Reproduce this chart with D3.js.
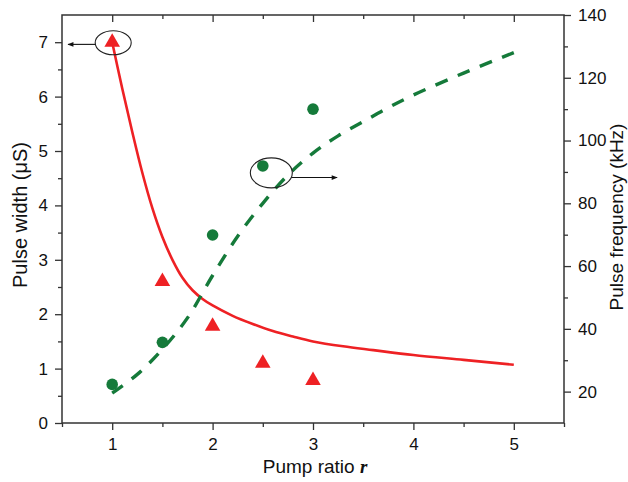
<!DOCTYPE html>
<html>
<head>
<meta charset="utf-8">
<script src="https://cdn.jsdelivr.net/npm/d3@7"></script>
<style>
  html, body { margin: 0; padding: 0; background: #fff; }
  svg { display: block; font-family: "Liberation Sans", Arial, sans-serif; }
</style>
</head>
<body>
<svg id="chart" width="628" height="482"></svg>
<script>
// Measured points
const pumpRatio = [1, 1.5, 2, 2.5, 3];
const pulseWidth = [7.0, 2.6, 1.78, 1.1, 0.78];          // µs, left axis
const pulseFreq = [22.3, 35.7, 69.9, 91.9, 110];         // kHz, right axis

// Model curves
const widthCurveR = [1.0, 1.1, 1.2, 1.3, 1.4, 1.5, 1.6, 1.7, 1.8, 1.9, 2.0, 2.2, 2.4, 2.6, 2.8, 3.0, 3.3, 3.6, 4.0, 4.5, 5.0];
const widthCurve  = [7.0, 6.15, 5.35, 4.6, 3.95, 3.42, 3.0, 2.67, 2.44, 2.28, 2.16, 1.97, 1.82, 1.69, 1.59, 1.5, 1.41, 1.34, 1.25, 1.16, 1.07];
const freqCurveR = [1.0, 1.25, 1.5, 1.75, 2.0, 2.25, 2.5, 2.75, 3.0, 3.25, 3.5, 3.75, 4.0, 4.5, 5.0];
const freqCurve  = [19.5, 25.5, 33.5, 43.5, 57, 69.5, 80, 89, 96, 101.5, 106, 110.5, 114.5, 121.5, 128];

// Axis ticks
const xTicks = [1, 2, 3, 4, 5];
const xMinor = [0.5, 1.5, 2.5, 3.5, 4.5, 5.5];
const yLeftTicks = [0, 1, 2, 3, 4, 5, 6, 7];
const yLeftMinor = [0.5, 1.5, 2.5, 3.5, 4.5, 5.5, 6.5];
const yRightTicks = [20, 40, 60, 80, 100, 120, 140];
const yRightMinor = [30, 50, 70, 90, 110, 130];

// Callouts: ellipse centre (r, value), which axis, arrow end r
const callouts = [
  { r: 1.01, v: 6.99, axis: "left", rx: 18, ry: 12, arrowV: 6.96, arrowTo: 0.56 },
  { r: 2.585, v: 89.7, axis: "right", rx: 21, ry: 15, arrowV: 88.2, arrowTo: 3.24 }
];

const red = "#ee2124";
const green = "#157a3a";
const axisColor = "#333";

const W = 628, H = 482;
const m = { left: 62, right: 64, top: 15, bottom: 59 };
const svg = d3.select("#chart");

const x = d3.scaleLinear().domain([0.5, 5.5]).range([m.left, W - m.right]);
const yL = d3.scaleLinear().domain([0, 7.5]).range([H - m.bottom, m.top]);
const yR = d3.scaleLinear().domain([10, 140]).range([H - m.bottom, m.top]);

const fontSize = 17;

// Frame
svg.append("rect")
  .attr("x", m.left).attr("y", m.top)
  .attr("width", W - m.left - m.right).attr("height", H - m.top - m.bottom)
  .attr("fill", "none").attr("stroke", axisColor).attr("stroke-width", 1.5);

function styleAxis(g) {
  g.select(".domain").remove();
  g.selectAll(".tick line").attr("stroke", axisColor).attr("stroke-width", 1.3);
  g.selectAll(".tick text").attr("fill", "#111").attr("font-size", fontSize)
    .attr("font-family", "Liberation Sans, Arial, sans-serif");
}

// Bottom axis
svg.append("g").attr("transform", `translate(0,${H - m.bottom})`)
  .call(d3.axisBottom(x).tickValues(xTicks).tickFormat(d3.format("d")).tickSize(7).tickPadding(8))
  .call(styleAxis);
svg.append("g").attr("transform", `translate(0,${H - m.bottom})`)
  .call(d3.axisBottom(x).tickValues(xMinor).tickFormat("").tickSize(4))
  .call(styleAxis);

// Top axis (inward ticks)
svg.append("g").attr("transform", `translate(0,${m.top})`)
  .call(d3.axisBottom(x).tickValues(xTicks).tickFormat("").tickSize(7))
  .call(styleAxis);
svg.append("g").attr("transform", `translate(0,${m.top})`)
  .call(d3.axisBottom(x).tickValues(xMinor.slice(1, -1)).tickFormat("").tickSize(4))
  .call(styleAxis);

// Left axis
svg.append("g").attr("transform", `translate(${m.left},0)`)
  .call(d3.axisLeft(yL).tickValues(yLeftTicks).tickFormat(d3.format("d")).tickSize(7).tickPadding(7))
  .call(styleAxis);
svg.append("g").attr("transform", `translate(${m.left},0)`)
  .call(d3.axisLeft(yL).tickValues(yLeftMinor).tickFormat("").tickSize(4))
  .call(styleAxis);

// Right axis
svg.append("g").attr("transform", `translate(${W - m.right},0)`)
  .call(d3.axisRight(yR).tickValues(yRightTicks).tickFormat(d3.format("d")).tickSize(7).tickPadding(7))
  .call(styleAxis);
svg.append("g").attr("transform", `translate(${W - m.right},0)`)
  .call(d3.axisRight(yR).tickValues(yRightMinor).tickFormat("").tickSize(4))
  .call(styleAxis);

// Axis titles
const titleSize = 19;
const xTitle = svg.append("text")
  .attr("x", (m.left + W - m.right) / 2 + 2).attr("y", H - 9)
  .attr("text-anchor", "middle").attr("font-size", titleSize).attr("fill", "#111");
xTitle.append("tspan").text("Pump ratio ");
xTitle.append("tspan").text("r").attr("font-style", "italic").attr("font-weight", "bold")
  .attr("font-family", "Liberation Serif, Times New Roman, serif");

svg.append("text")
  .attr("transform", `translate(27,${(m.top + H - m.bottom) / 2 - 4}) rotate(-90)`)
  .attr("text-anchor", "middle").attr("font-size", 20).attr("fill", "#111")
  .text("Pulse width (\u03BCS)");

svg.append("text")
  .attr("transform", `translate(${W - 5},${(m.top + H - m.bottom) / 2 - 2}) rotate(-90)`)
  .attr("text-anchor", "middle").attr("font-size", titleSize).attr("fill", "#111")
  .text("Pulse frequency (kHz)");

// Curves
const widthLine = d3.line()
  .x(d => x(d[0])).y(d => yL(d[1]))
  .curve(d3.curveCatmullRom.alpha(0.5));
svg.append("path")
  .datum(d3.zip(widthCurveR, widthCurve))
  .attr("d", widthLine)
  .attr("fill", "none").attr("stroke", red).attr("stroke-width", 2.6);

const freqLine = d3.line()
  .x(d => x(d[0])).y(d => yR(d[1]))
  .curve(d3.curveCatmullRom.alpha(0.5));
svg.append("path")
  .datum(d3.zip(freqCurveR, freqCurve))
  .attr("d", freqLine)
  .attr("fill", "none").attr("stroke", green).attr("stroke-width", 3.4)
  .attr("stroke-dasharray", "13,11");

// Measured markers
svg.append("g").selectAll("path")
  .data(d3.zip(pumpRatio, pulseWidth))
  .join("path")
  .attr("transform", d => `translate(${x(d[0])},${yL(d[1])})`)
  .attr("d", d3.symbol(d3.symbolTriangle, 105))
  .attr("fill", red);

svg.append("g").selectAll("circle")
  .data(d3.zip(pumpRatio, pulseFreq))
  .join("circle")
  .attr("cx", d => x(d[0])).attr("cy", d => yR(d[1]))
  .attr("r", 5.8)
  .attr("fill", green);

// Callout ellipses and arrows
svg.append("defs").append("marker")
  .attr("id", "arrowHead").attr("viewBox", "0 0 10 10")
  .attr("refX", 9).attr("refY", 5)
  .attr("markerWidth", 8).attr("markerHeight", 6)
  .attr("markerUnits", "userSpaceOnUse")
  .attr("orient", "auto")
  .append("path").attr("d", "M0,1 L10,5 L0,9 Z").attr("fill", "#111");

callouts.forEach(c => {
  const ys = c.axis === "left" ? yL : yR;
  const cx = x(c.r), cy = ys(c.v);
  svg.append("ellipse")
    .attr("cx", cx).attr("cy", cy).attr("rx", c.rx).attr("ry", c.ry)
    .attr("fill", "none").attr("stroke", "#222").attr("stroke-width", 1.1);
  const ay = ys(c.arrowV);
  const dir = c.arrowTo < c.r ? -1 : 1;
  const dy = ay - cy;
  const startX = cx + dir * c.rx * Math.sqrt(Math.max(0, 1 - (dy * dy) / (c.ry * c.ry)));
  svg.append("line")
    .attr("x1", startX).attr("y1", ay)
    .attr("x2", x(c.arrowTo)).attr("y2", ay)
    .attr("stroke", "#111").attr("stroke-width", 1.1)
    .attr("marker-end", "url(#arrowHead)");
});
</script>
</body>
</html>
